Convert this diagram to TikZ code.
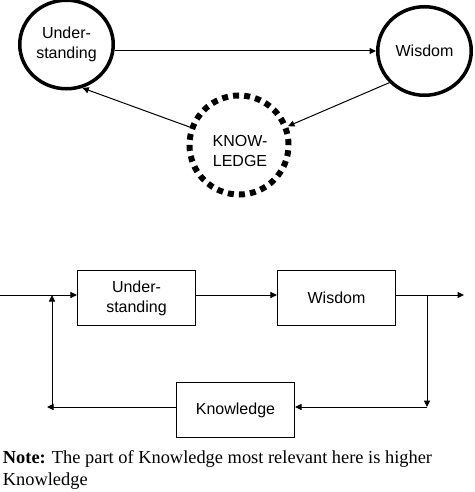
\documentclass[tikz,border=0pt]{standalone}
\usepackage{fontspec}
\setmainfont{Liberation Serif}
\newfontfamily\arial{Liberation Sans}
\usetikzlibrary{shapes.geometric,arrows.meta}
\tikzset{
  lab/.style={font=\arial\fontsize{16}{20}\selectfont, align=center},
  oval/.style={lab, ellipse, draw, line width=3.5pt, minimum width=93.5pt, minimum height=88.5pt, inner sep=0pt},
  dotcirc/.style={circle, draw, line width=6pt, dash pattern=on 6pt off 5.1pt, minimum size=99pt, inner sep=0pt},
  boxnode/.style={lab, rectangle, draw, line width=1.1pt, minimum width=118pt, minimum height=55pt, inner sep=0pt},
  arr/.style={line width=1pt, -{Triangle[length=6.5pt,width=6pt]}},
}
\begin{document}
\begin{tikzpicture}[x=1pt,y=-1pt]
\useasboundingbox (0,0) rectangle (474,492);
% top diagram
\node[oval] (U) at (66.5,44.5) {Under-\\standing};
\node[oval] (W) at (424.5,51) {Wisdom};
\node[dotcirc] (K) at (239,145) {};
\node[lab] (Kt) at (240,151) {KNOW-\\LEDGE};
\draw[arr] (U.east |- W.west) -- (W.west);
\draw[arr] (K.160) -- (U.290);
\draw[arr] (W.222) -- (K.21);
% bottom diagram
\node[boxnode] (U2) at (136.5,298) {Under-\\standing};
\node[boxnode] (W2) at (336.5,298) {Wisdom};
\node[boxnode] (K2) at (235.5,410) {Knowledge};
\coordinate (in) at (0,295);
\coordinate (out) at (464,295);
\coordinate (br) at (427,295);
\coordinate (bd) at (427,407);
\coordinate (bl) at (47,407);
\coordinate (fb1) at (52,407);
\coordinate (fb2) at (52,295);
\draw[arr] (in) -- (U2.west |- in);
\draw[arr] (U2.east |- in) -- (W2.west |- in);
\draw[arr] (W2.east |- in) -- (out);
\draw[arr] (br) -- (bd);
\draw[arr] (bd) -- (K2.east |- bd);
\draw[arr] (K2.west |- bd) -- (bl);
\draw[arr] (fb1) -- (fb2);
% note
\node[anchor=base west, align=left, inner sep=0pt, font=\fontsize{18.4}{22.4}\selectfont] (note) at (2.7,485.7)
  {\textbf{Note:} The part of Knowledge most relevant here is higher\\Knowledge};
\end{tikzpicture}
\end{document}
